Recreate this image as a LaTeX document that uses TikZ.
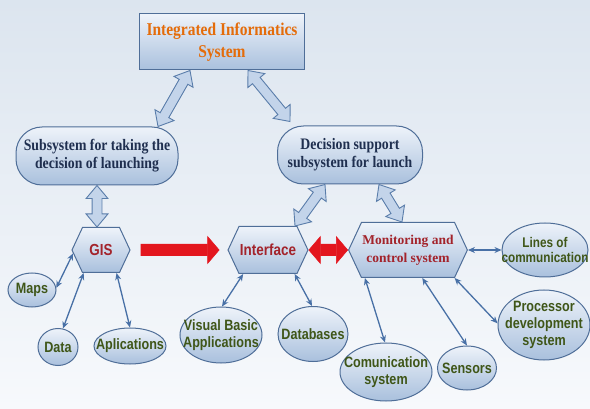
\documentclass[tikz,border=0pt]{standalone}
\usepackage{fontspec}
\setmainfont{Liberation Serif}
\newfontfamily\hdfont{Liberation Serif}[FakeStretch=0.86]
\newfontfamily\lblfont{Liberation Sans}[FakeStretch=0.84]
\usetikzlibrary{positioning,calc,arrows.meta,shapes.symbols,shapes.arrows,shapes.geometric}

\definecolor{bgtop}{HTML}{F7F9FC}
\definecolor{bgbot}{HTML}{DCE5EF}
\definecolor{boxtop}{HTML}{EEF3FA}
\definecolor{boxbot}{HTML}{A9C0DD}
\definecolor{boxline}{HTML}{4F6E98}
\definecolor{navytxt}{HTML}{1F2F4F}
\definecolor{orangetxt}{HTML}{E46C0A}
\definecolor{redtxt}{HTML}{A3232B}
\definecolor{greentxt}{HTML}{3F5618}
\definecolor{linkblue}{HTML}{4870A6}
\definecolor{bigfill}{HTML}{C3D4EA}
\definecolor{bigline}{HTML}{5A7DAA}
\definecolor{redarrow}{HTML}{E3161E}

\tikzset{
  box/.style={draw=boxline, line width=1pt, top color=boxtop, bottom color=boxbot, inner sep=1pt, align=center},
  topbox/.style={box, rectangle, minimum width=165, minimum height=56, font=\hdfont\bfseries\fontsize{18}{22}\selectfont, text=orangetxt},
  pillbox/.style={box, rectangle, rounded corners=26pt, minimum height=58, font=\hdfont\bfseries\fontsize{16}{18}\selectfont, text=navytxt},
  hexbox/.style={box, signal, signal to=west and east, signal pointer angle=130, text=redtxt},
  ellbox/.style={box, ellipse, inner sep=0pt},
  elltxt/.style={font=\lblfont\bfseries\fontsize{15}{17}\selectfont, text=greentxt, align=center},
  link/.style={linkblue, line width=1.3pt, {Stealth[length=7pt,width=6pt]}-{Stealth[length=7pt,width=6pt]}},
  redarr/.style={draw=redarrow, line width=12pt},
  bigarr/.style={double arrow, draw=bigline, fill=bigfill, line width=0.9pt, inner xsep=0pt, inner ysep=4.5pt,
    double arrow head extend=6pt, double arrow tip angle=80, anchor=center},
  bigarrow/.style={to path={
    let \p1=(\tikztostart), \p2=(\tikztotarget),
        \n1={atan2(\y2-\y1,\x2-\x1)}, \n2={veclen(\x2-\x1,\y2-\y1)}
    in node[bigarr, rotate=-\n1, minimum height=\n2] at ($(\tikztostart)!0.5!(\tikztotarget)$) {}
  }},
}

\begin{document}
\begin{tikzpicture}[x=1pt,y=1pt,yscale=-1,xscale=1]

% background
\shade[top color=bgbot, bottom color=bgtop] (0,0) rectangle (590,409);
\useasboundingbox (0,0) rectangle (590,409);

% Top box
\node [topbox] (top) at (222,42) {Integrated Informatics\\System};
% Subsystems
\node [pillbox, minimum width=162] (sub) at (97,156) {Subsystem for taking the\\decision of launching};
\node [pillbox, minimum width=145] (dss) at (350,155) {Decision support\\subsystem for launch};

% Hexagons
\node [hexbox, minimum width=58, minimum height=45, font=\lblfont\bfseries\fontsize{16}{18}\selectfont] (gis) at (101,250) {GIS};
\node [hexbox, minimum width=77, minimum height=47, font=\lblfont\bfseries\fontsize{16}{18}\selectfont] (intf) at (268,250) {Interface};
\node [hexbox, minimum width=117, minimum height=55, font=\bfseries\fontsize{13.5}{18}\selectfont] (mon) at (408,250) {Monitoring and\\control system};

% Ellipses
\node [ellbox, minimum width=48, minimum height=34, label={[elltxt]center:Maps}] (maps) at (32,290) {};
\node [ellbox, minimum width=40, minimum height=37, label={[elltxt]center:Data}] (data) at (58,347) {};
\node [ellbox, minimum width=72, minimum height=36, label={[elltxt]center:Aplications}] (apps) at (130,346) {};
\node [ellbox, minimum width=82, minimum height=56, label={[elltxt]center:Visual Basic\\Applications}] (vba) at (221,335) {};
\node [ellbox, minimum width=70, minimum height=55, label={[elltxt]center:Databases}] (db) at (313,334) {};
\node [ellbox, minimum width=92, minimum height=58, label={[elltxt]center:Comunication\\system}] (com) at (386,372) {};
\node [ellbox, minimum width=59, minimum height=44, label={[elltxt]center:Sensors}] (sens) at (467,368) {};
\node [ellbox, minimum width=92, minimum height=70, label={[elltxt]center:Processor\\development\\system}] (proc) at (544,325) {};
\node [ellbox, minimum width=86, minimum height=54, label={[elltxt, font=\lblfont\bfseries\fontsize{14}{15}\selectfont]center:Lines of\\communication}] (lines) at (545,250) {};

% big arrows
\coordinate (a1) at ([xshift=-32pt]top.south);
\coordinate (b1) at ([xshift=61pt]sub.north);
\coordinate (a2) at ([xshift=26pt]top.south);
\coordinate (b2) at ([xshift=-60pt,yshift=-4pt]dss.north);
\coordinate (a3) at ([xshift=-25pt]dss.south);
\coordinate (b3) at ([xshift=27pt]intf.north);
\coordinate (a4) at ([xshift=29pt]dss.south);
\coordinate (b4) at ([xshift=-6pt]mon.north);
\path (a1) to[bigarrow] (b1);
\path (a2) to[bigarrow] (b2);
\path (sub.south) to[bigarrow] (sub.south |- gis.north);
\path (a3) to[bigarrow] (b3);
\path (a4) to[bigarrow] (b4);

% red arrows
\draw [redarr, -{Triangle[length=12pt,width=28pt,line width=0.5pt]}, shorten <=10pt, shorten >=8pt] (gis) -- (intf);
\draw [redarr, {Triangle[length=12pt,width=28pt,line width=0.5pt]}-{Triangle[length=12pt,width=28pt,line width=0.5pt]}] (intf) -- (mon);

% links
\draw [link] (gis.187) -- (maps.5);
\draw [link] (gis.233) -- (data.75);
\draw [link] (gis.304) -- (apps.90);
\draw [link] (intf.224) -- (vba.88);
\draw [link] (intf.318) -- (db.92);
\draw [link] (mon.213) -- (com.92);
\draw [link] (mon.297) -- (sens.90);
\draw [link] (mon.329) -- (proc.178);
\draw [link] (mon) -- (lines);

\end{tikzpicture}
\end{document}
